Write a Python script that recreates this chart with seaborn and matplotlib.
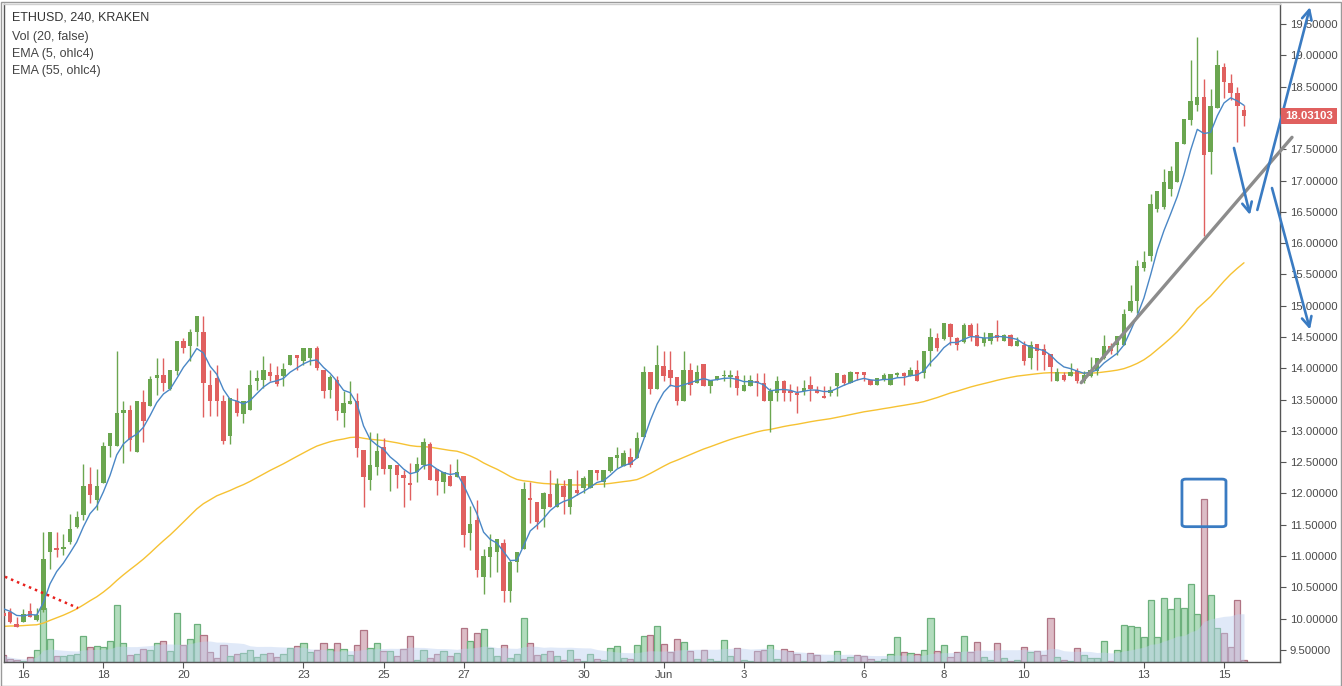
import numpy as np
import pandas as pd
import matplotlib
matplotlib.use("Agg")
import matplotlib.pyplot as plt
import seaborn as sns
from matplotlib.patches import Rectangle, FancyBboxPatch

sns.set_style("white")
plt.rcParams['font.family'] = ['Liberation Sans', 'DejaVu Sans']

# ---------------- data ----------------
symbol_title = "ETHUSD, 240, KRAKEN"
indicator_labels = ["Vol (20, false)", "EMA (5, ohlc4)", "EMA (55, ohlc4)"]
start_time = "2016-05-15 12:00"

opens = [
    10.09, 10.10, 9.915, 9.95, 10.12, 9.98, 10.14, 11.06, 11.11, 11.12,
    11.22, 11.47, 11.66, 12.15, 11.89, 12.17, 12.76, 12.76, 13.28, 13.33,
    12.67, 13.46, 13.39, 13.85, 13.89, 13.67, 13.96, 14.44, 14.35, 14.58,
    14.58, 13.74, 13.84, 13.48, 12.92, 13.48, 13.27, 13.34, 13.79, 13.81,
    13.94, 13.89, 13.87, 14.06, 14.21, 14.12, 14.17, 14.32, 13.97, 13.65,
    13.82, 13.29, 13.43, 13.48, 12.69, 12.22, 12.43, 12.74, 12.39, 12.45,
    12.30, 12.15, 12.35, 12.46, 12.79, 12.39, 12.19, 12.28, 12.27, 12.28,
    11.37, 11.58, 10.66, 10.99, 11.07, 11.21, 10.45, 10.90, 11.12, 11.91,
    11.86, 11.76, 11.99, 11.78, 12.12, 11.78, 12.06, 12.09, 12.09, 12.38,
    12.19, 12.36, 12.57, 12.44, 12.58, 12.57, 12.90, 13.94, 13.67, 14.04,
    13.97, 13.86, 13.48, 13.97, 13.76, 14.07, 13.72, 13.82, 13.87, 13.86,
    13.88, 13.63, 13.72, 13.79, 13.76, 13.47, 13.61, 13.80, 13.64, 13.61,
    13.63, 13.73, 13.66, 13.56, 13.61, 13.71, 13.89, 13.76, 13.94, 13.94,
    13.81, 13.73, 13.82, 13.73, 13.89, 13.92, 13.88, 13.97, 13.92, 14.27,
    14.48, 14.47, 14.71, 14.48, 14.42, 14.69, 14.53, 14.40, 14.44, 14.53,
    14.44, 14.53, 14.36, 14.37, 14.17, 14.39, 14.31, 14.23, 13.80, 13.89,
    13.87, 13.96, 13.79, 13.87, 13.96, 14.16, 14.35, 14.37, 14.37, 14.92,
    15.07, 15.61, 15.80, 16.54, 16.57, 16.86, 16.98, 17.59, 17.97, 18.21,
    18.33, 17.46, 18.16, 18.82, 18.55, 18.40, 18.13,
]
highs = [
    10.15, 10.17, 10.02, 10.15, 10.25, 10.17, 11.39, 11.39, 11.38, 11.36,
    11.67, 11.72, 12.47, 12.43, 12.39, 12.83, 12.96, 14.28, 13.48, 13.41,
    13.48, 13.66, 13.87, 14.16, 14.16, 13.97, 14.44, 14.49, 14.62, 14.84,
    14.84, 13.97, 14.05, 13.57, 13.53, 13.68, 13.48, 13.97, 13.97, 14.19,
    14.09, 14.04, 14.09, 14.21, 14.21, 14.32, 14.32, 14.36, 13.97, 13.89,
    13.87, 13.64, 13.79, 13.60, 12.69, 12.98, 12.96, 12.88, 12.45, 12.45,
    12.38, 12.48, 12.58, 12.88, 12.82, 12.39, 12.34, 12.47, 12.55, 12.28,
    11.80, 11.89, 11.11, 11.35, 11.27, 11.27, 10.94, 11.07, 12.18, 12.18,
    11.86, 12.03, 12.38, 12.24, 12.21, 12.23, 12.38, 12.28, 12.38, 12.38,
    12.38, 12.58, 12.75, 12.70, 12.73, 12.98, 14.04, 13.94, 14.37, 14.28,
    14.28, 13.86, 14.28, 14.08, 14.05, 14.07, 13.82, 13.88, 13.97, 13.97,
    13.97, 13.89, 13.89, 13.92, 13.92, 13.68, 13.88, 13.81, 13.75, 13.71,
    13.81, 13.88, 13.72, 13.72, 13.71, 13.92, 13.91, 13.95, 13.94, 13.94,
    13.81, 13.84, 13.92, 13.91, 13.94, 13.94, 14.02, 14.13, 14.28, 14.64,
    14.57, 14.72, 14.72, 14.50, 14.73, 14.73, 14.72, 14.58, 14.56, 14.77,
    14.55, 14.55, 14.50, 14.44, 14.43, 14.39, 14.39, 14.23, 14.01, 13.94,
    14.08, 14.00, 13.96, 14.18, 14.17, 14.53, 14.41, 14.51, 14.94, 15.33,
    15.73, 15.88, 16.79, 16.84, 17.18, 17.23, 17.62, 17.99, 18.93, 19.29,
    18.62, 18.47, 19.09, 18.88, 18.70, 18.50, 18.20,
]
lows = [
    10.02, 9.93, 9.87, 9.95, 10.03, 9.97, 10.11, 10.80, 10.99, 11.02,
    11.20, 11.45, 11.58, 11.85, 11.74, 12.17, 12.59, 12.76, 12.48, 12.68,
    12.67, 12.83, 13.39, 13.57, 13.63, 13.65, 13.89, 14.24, 14.11, 14.35,
    13.23, 13.24, 13.24, 12.79, 12.79, 13.24, 13.13, 13.34, 13.65, 13.68,
    13.79, 13.72, 13.72, 14.06, 13.97, 14.05, 14.05, 13.97, 13.52, 13.52,
    13.17, 13.07, 13.43, 12.59, 11.79, 12.06, 12.30, 12.31, 12.04, 12.09,
    11.79, 11.89, 12.19, 12.39, 12.22, 11.98, 12.00, 12.12, 12.27, 11.15,
    11.10, 10.66, 10.39, 10.66, 10.75, 10.27, 10.27, 10.75, 11.12, 11.53,
    11.44, 11.47, 11.78, 11.78, 11.68, 11.68, 11.98, 12.00, 12.09, 12.21,
    12.10, 12.35, 12.40, 12.44, 12.43, 12.57, 12.90, 13.59, 13.67, 13.80,
    13.72, 13.41, 13.48, 13.57, 13.76, 13.72, 13.61, 13.82, 13.79, 13.70,
    13.57, 13.63, 13.72, 13.55, 13.47, 12.99, 13.47, 13.48, 13.48, 13.29,
    13.57, 13.48, 13.61, 13.53, 13.56, 13.56, 13.74, 13.76, 13.81, 13.79,
    13.73, 13.73, 13.80, 13.73, 13.86, 13.73, 13.88, 13.79, 13.84, 14.03,
    14.28, 14.45, 14.38, 14.30, 14.40, 14.44, 14.35, 14.35, 14.39, 14.44,
    14.44, 14.36, 14.36, 14.05, 13.99, 13.97, 13.98, 13.79, 13.80, 13.79,
    13.87, 13.76, 13.76, 13.86, 13.90, 14.15, 14.23, 14.21, 14.37, 14.90,
    14.89, 15.55, 15.71, 16.50, 16.55, 16.75, 16.98, 17.59, 17.89, 18.11,
    16.11, 17.11, 18.16, 18.32, 18.29, 17.62, 17.87,
]
closes = [
    10.04, 9.95, 9.87, 10.075, 10.03, 10.06, 10.96, 11.39, 11.10, 11.13,
    11.43, 11.62, 12.12, 11.97, 12.12, 12.76, 12.96, 13.28, 13.33, 12.85,
    13.48, 13.16, 13.83, 13.89, 13.77, 13.97, 14.44, 14.32, 14.58, 14.84,
    13.76, 13.48, 13.47, 12.84, 13.53, 13.29, 13.48, 13.73, 13.85, 13.97,
    13.88, 13.75, 13.99, 14.21, 14.17, 14.32, 14.32, 14.01, 13.64, 13.86,
    13.32, 13.44, 13.48, 12.73, 12.27, 12.46, 12.68, 12.39, 12.45, 12.30,
    12.25, 12.14, 12.47, 12.82, 12.22, 12.20, 12.34, 12.12, 12.34, 11.33,
    11.51, 10.77, 11.00, 11.14, 11.27, 10.45, 10.91, 11.07, 12.07, 11.90,
    11.55, 12.00, 11.78, 12.15, 11.95, 12.23, 12.00, 12.24, 12.38, 12.33,
    12.38, 12.58, 12.62, 12.64, 12.46, 12.88, 13.94, 13.67, 14.05, 13.87,
    13.85, 13.48, 13.97, 13.73, 13.94, 13.72, 13.82, 13.88, 13.88, 13.89,
    13.69, 13.73, 13.81, 13.76, 13.48, 13.64, 13.80, 13.61, 13.60, 13.58,
    13.68, 13.67, 13.61, 13.53, 13.65, 13.92, 13.76, 13.94, 13.91, 13.89,
    13.73, 13.84, 13.89, 13.91, 13.92, 13.87, 13.97, 13.79, 14.28, 14.50,
    14.33, 14.72, 14.50, 14.37, 14.69, 14.52, 14.36, 14.48, 14.56, 14.49,
    14.53, 14.36, 14.44, 14.12, 14.37, 14.27, 14.22, 14.02, 13.94, 13.82,
    13.94, 13.79, 13.89, 13.97, 14.17, 14.36, 14.28, 14.51, 14.86, 15.07,
    15.63, 15.70, 16.62, 16.84, 16.98, 17.16, 17.62, 17.99, 18.27, 18.33,
    17.41, 18.19, 18.84, 18.57, 18.40, 18.19, 18.03103,
]
volume = [
    7, 2.7, 1.7, 1, 5, 11.7, 53.7, 22.7, 6, 6,
    7, 7.7, 26, 15, 16, 15, 21, 57, 18.7, 6.7,
    7.7, 12.7, 11.7, 18.7, 20.7, 10.7, 48.7, 16.7, 22.7, 37.7,
    26.7, 10, 3.7, 16.7, 6, 7.7, 8.7, 11.7, 5, 7.7,
    8.7, 5, 7.7, 13.7, 16, 18.7, 10.3, 11.7, 19.3, 12.7,
    18.7, 12.7, 7.5, 17.3, 31.7, 14.3, 19.3, 10.7, 10.7, 5.7,
    13.3, 26.3, 2.3, 12.3, 4.3, 8.3, 10.7, 5.7, 9.3, 34,
    21, 28.7, 32.7, 13.7, 5.7, 16.7, 3.7, 7.7, 43.7, 18.7,
    6.7, 7.7, 10.7, 5.7, 1.7, 11.7, 2.7, 1, 7.7, 2.7,
    1.7, 13.7, 16, 3.7, 2.7, 16.7, 26, 26.7, 36, 17.7,
    10.3, 22.7, 20, 11, 3.3, 12.3, 3.3, 1, 21.7, 5.7,
    14.3, 2.3, 1, 10.7, 11.7, 16.7, 3.3, 13.3, 10.7, 8.3,
    1, 9, 6.7, 0.5, 1, 11, 2.7, 5, 6.7, 6,
    2.7, 1, 2.7, 7.7, 25, 10, 8.7, 7.7, 11.7, 43.7,
    11, 16.7, 5, 10, 26, 10, 20, 5, 2, 18.7,
    3.7, 1, 2, 15, 10, 11.3, 6.9, 44, 5.2, 2.4,
    1, 14.5, 6.9, 4.5, 4.5, 21.3, 1, 12, 36.8, 36.2,
    35.1, 25.1, 62, 25, 64, 53, 64, 54, 78, 48,
    163, 67, 34, 29, 15, 62, 2,
]
ema5_seed = 10.20
ema55_seed = 9.87
last_price = 18.03103

tick_dates = ["2016-05-16", "2016-05-18", "2016-05-20", "2016-05-23", "2016-05-25",
              "2016-05-27", "2016-05-30", "2016-06-01", "2016-06-03", "2016-06-06",
              "2016-06-08", "2016-06-10", "2016-06-13", "2016-06-15"]
tick_labels = ["16", "18", "20", "23", "25", "27", "30", "Jun", "3", "6", "8", "10", "13", "15"]
price_ticks = [9.5, 10.0, 10.5, 11.0, 11.5, 12.0, 12.5, 13.0, 13.5, 14.0,
               14.5, 15.0, 15.5, 16.0, 16.5, 17.0, 17.5, 18.0, 18.5, 19.0, 19.5]

# drawn annotations (candle index, price)
trend_red = ([0.25, 11.2], [10.67, 10.17])
trend_gray = ([161.6, 193.2], [13.77, 17.69])
arrows = [((188.0, 16.53), (195.9, 19.77)),
          ((184.5, 17.52), (186.9, 16.45)),
          ((190.2, 16.88), (195.9, 14.62))]
box_idx = (176.7, 183.3)
box_price = (11.47, 12.23)

lens = {len(opens), len(highs), len(lows), len(closes), len(volume)}
if len(lens) != 1:
    raise ValueError(f"length mismatch {len(opens)} {len(highs)} {len(lows)} {len(closes)} {len(volume)}")

# ---------------- frame ----------------
n = len(closes)
times = pd.date_range(start_time, periods=n, freq="4h")
df = pd.DataFrame({"time": times, "open": opens, "high": highs, "low": lows,
                   "close": closes, "volume": volume})
df["idx"] = np.arange(n)
df["up"] = df["close"] >= df["open"]
ohlc4 = (df.open + df.high + df.low + df.close) / 4


def ema(src, length, seed):
    a = 2.0 / (length + 1)
    out, prev = [], seed
    for v in src:
        prev = a * v + (1 - a) * prev
        out.append(prev)
    return np.array(out)


df["ema5"] = ema(ohlc4, 5, ema5_seed)
df["ema55"] = ema(ohlc4, 55, ema55_seed)
df["volma"] = df["volume"].rolling(20, min_periods=1).mean()

GREEN = "#6ba650"
RED = "#e0605f"
VOL_G_FACE, VOL_G_EDGE = "#b2dcbd", "#6cb07c"
VOL_R_FACE, VOL_R_EDGE = "#dcbcc6", "#b07484"

W, H = 1342, 686
fig = plt.figure(figsize=(W / 100, H / 100), dpi=100)
fig.patch.set_facecolor("white")
left_px, right_px, top_px, bot_px = 4, 1280, 4, 662
rect = [left_px / W, 1 - bot_px / H, (right_px - left_px) / W, (bot_px - top_px) / H]
axv = fig.add_axes(rect)
ax = fig.add_axes(rect, sharex=axv)
ax.set_zorder(axv.get_zorder() + 1)
ax.patch.set_visible(False)

# volume
vcol_face = np.where(df.up, VOL_G_FACE, VOL_R_FACE)
vcol_edge = np.where(df.up, VOL_G_EDGE, VOL_R_EDGE)
axv.bar(df.idx, df.volume, width=0.92, color=vcol_face, edgecolor=vcol_edge, linewidth=0.9, zorder=2)
axv.fill_between(df.idx, 0, df.volma, color="#bcd0f0", alpha=0.45, linewidth=0, zorder=3)
axv.set_ylim(0, bot_px - top_px)
axv.axis("off")

# candles
colors = np.where(df.up, GREEN, RED)
ax.vlines(df.idx, df.low, df.high, colors=colors, linewidth=1.0, zorder=3)
body_low = np.minimum(df.open, df.close)
body_h = np.maximum(np.abs(df.close - df.open), 0.025)
ax.bar(df.idx, body_h, bottom=body_low, width=0.66, color=colors, linewidth=0, zorder=4)

# EMAs
sns.lineplot(x=df.idx, y=df.ema55, ax=ax, color="#f6c233", linewidth=1.0, zorder=2)
sns.lineplot(x=df.idx, y=df.ema5, ax=ax, color="#4a87c6", linewidth=1.0, zorder=5)

# annotations
ax.plot(*trend_red, color="#e8211e", linewidth=1.8, linestyle=(0, (1, 1.6)), zorder=6)
ax.plot(*trend_gray, color="#8c8c8c", linewidth=2.4, zorder=6, clip_on=False, solid_capstyle="round")
for (x0, y0), (x1, y1) in arrows:
    ax.annotate("", xy=(x1, y1), xytext=(x0, y0), annotation_clip=False,
                arrowprops=dict(arrowstyle="->,head_length=0.7,head_width=0.35",
                                color="#3a7bc2", lw=1.9, shrinkA=0, shrinkB=0, clip_on=False),
                zorder=7)
ax.add_patch(FancyBboxPatch((box_idx[0], box_price[0]), box_idx[1] - box_idx[0],
                            box_price[1] - box_price[0],
                            boxstyle="round,pad=0,rounding_size=0.6",
                            fill=False, edgecolor="#3a7bc2", linewidth=2.0,
                            mutation_aspect=0.06, zorder=7))

# axes
ax.set_xlim(0.1, 191.4)
ax.set_ylim(9.308, 19.82)
ax.yaxis.tick_right()
ax.set_yticks(price_ticks)
# the last-price tag hides the tick label it sits on
ax.set_yticklabels(["" if abs(t - last_price) < 0.2 else f"{t:.5f}" for t in price_ticks])
pos = [int(times.get_loc(pd.Timestamp(d))) for d in tick_dates]
ax.set_xticks(pos)
ax.set_xticklabels(tick_labels)
ax.tick_params(axis="y", which="both", right=True, left=False, length=4, width=0.8,
               color="#555555", labelsize=8.2, labelcolor="#4a4a4a", pad=3)
ax.tick_params(axis="x", which="both", bottom=True, length=4, width=0.8,
               color="#555555", labelsize=8.2, labelcolor="#4a4a4a", pad=2)
ax.set_xlabel("")
ax.set_ylabel("")
for side, sp in ax.spines.items():
    sp.set_visible(True)
    sp.set_linewidth(1.0)
ax.spines["right"].set_color("#555555")
ax.spines["bottom"].set_color("#555555")
ax.spines["left"].set_color("#555555")
ax.spines["top"].set_color("#d0d0d0")
ax.grid(False)

# price tag
ytag = ax.transData.transform((0, last_price))[1]
tag_h = 16
fig.patches.append(Rectangle((1281 / W, (ytag - tag_h / 2) / H), 56 / W, tag_h / H,
                             transform=fig.transFigure, facecolor="#e0605f",
                             edgecolor="none", zorder=10))
fig.text(1309 / W, ytag / H, f"{last_price:.5f}", color="white", fontsize=8.2,
         fontweight="bold", ha="center", va="center", zorder=11)

# legend text
fig.text(12 / W, 1 - 18 / H, symbol_title, fontsize=9, color="#333333", va="center")
for i, lab in enumerate(indicator_labels):
    fig.text(12 / W, 1 - (37 + 17 * i) / H, lab, fontsize=9, color="#444444", va="center")

# outer border
fig.patches.append(Rectangle((0.5 / W, 0.5 / H), (W - 2) / W, (H - 2) / H,
                             transform=fig.transFigure, fill=False,
                             edgecolor="#9a9a9a", linewidth=1.0))

fig.savefig("out.png", dpi=100)
